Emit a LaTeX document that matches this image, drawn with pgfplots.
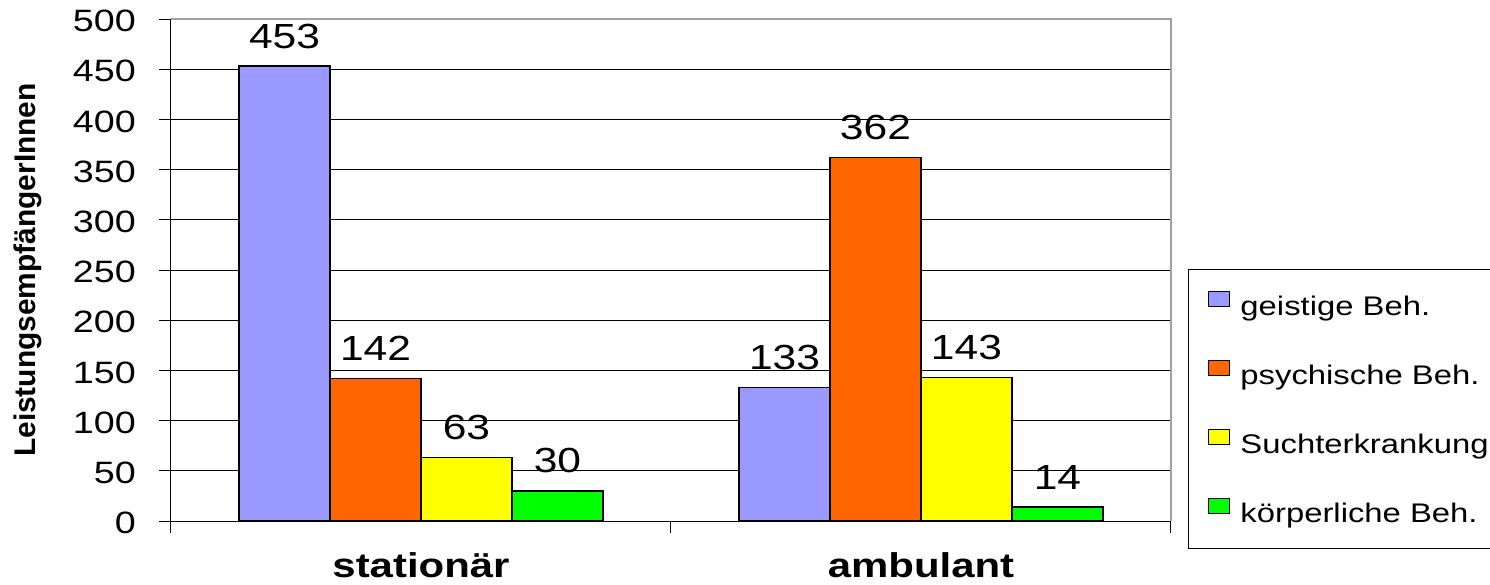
\documentclass[border=0pt]{standalone}
\usepackage{fontspec}
\setmainfont{Liberation Sans}[FakeStretch=1.22]
\newfontfamily\ylabfont{Liberation Sans}
\usepackage{pgfplots}
\pgfplotsset{compat=1.18}
\definecolor{cblue}{HTML}{9999FF}
\definecolor{corange}{HTML}{FF6600}
\definecolor{cyellow}{HTML}{FFFF00}
\definecolor{cgreen}{HTML}{00FF00}
\definecolor{bordergray}{HTML}{A0A0A0}
\begin{document}
\begin{tikzpicture}
\begin{axis}[
  at={(0,0)}, anchor=south west,
  scale only axis, width=1000bp, height=502bp,
  xmin=-0.5, xmax=1.5, ymin=0, ymax=500,
  axis lines=left, axis line style={-, black, line width=1bp},
  ytick={0,50,...,500},
  xtick={-0.5,0.5,1.5}, xticklabels={},
  extra x ticks={0,1}, extra x tick labels={stationär,ambulant},
  extra x tick style={major tick length=0pt,
     xticklabel style={font=\fontsize{34.5}{40}\selectfont\bfseries, inner sep=0pt, anchor=base, yshift=-56bp}},
  tick align=outside, major tick length=12bp,
  tick style={black, line width=1bp},
  ymajorgrids, grid style={black, line width=1bp},
  /pgf/number format/assume math mode=true,
  yticklabel shift=23bp,
  yticklabel style={font=\fontsize{31}{36}\selectfont, inner sep=0pt, anchor=east, yshift=-2bp},
  ylabel={\ylabfont\bfseries\fontsize{30}{34}\selectfont LeistungsempfängerInnen},
  ylabel style={at={(axis description cs:-0.143,0.5)}, anchor=center, rotate=0},
  ybar=0pt, bar width=0.182,
  every axis plot/.append style={draw=black, line width=1.5bp},
  nodes near coords,
  nodes near coords style={font=\fontsize{35}{40}\selectfont, anchor=south, inner sep=0pt, yshift=17bp, black},
  legend style={at={(rel axis cs:1.017,0.502)}, anchor=north west, draw=black, line width=1bp,
     font=\fontsize{27}{32}\selectfont, row sep=37bp, inner xsep=20bp, inner ysep=20bp,
     nodes={inner sep=0pt, text height=26bp, text depth=6bp},
     /tikz/every odd column/.append style={column sep=10bp}},
  legend cell align=left,
  legend image code/.code={\draw[#1, line width=1bp] (0bp,-1bp) rectangle (21bp,14bp);},
  after end axis/.code={\draw[bordergray, line width=2bp] (rel axis cs:0,1) -- (rel axis cs:1,1) -- (rel axis cs:1,0);},
  clip=false,
]
\addplot[fill=cblue] coordinates {(0,453) (1,133)};
\addplot[fill=corange] coordinates {(0,142) (1,362)};
\addplot[fill=cyellow] coordinates {(0,63) (1,143)};
\addplot[fill=cgreen] coordinates {(0,30) (1,14)};
\legend{geistige Beh.,psychische Beh.,Suchterkrankung,körperliche Beh.}
\end{axis}
\pgfresetboundingbox
\path[use as bounding box] (-171bp,-64bp) rectangle (1319bp,521bp);
\end{tikzpicture}
\end{document}
